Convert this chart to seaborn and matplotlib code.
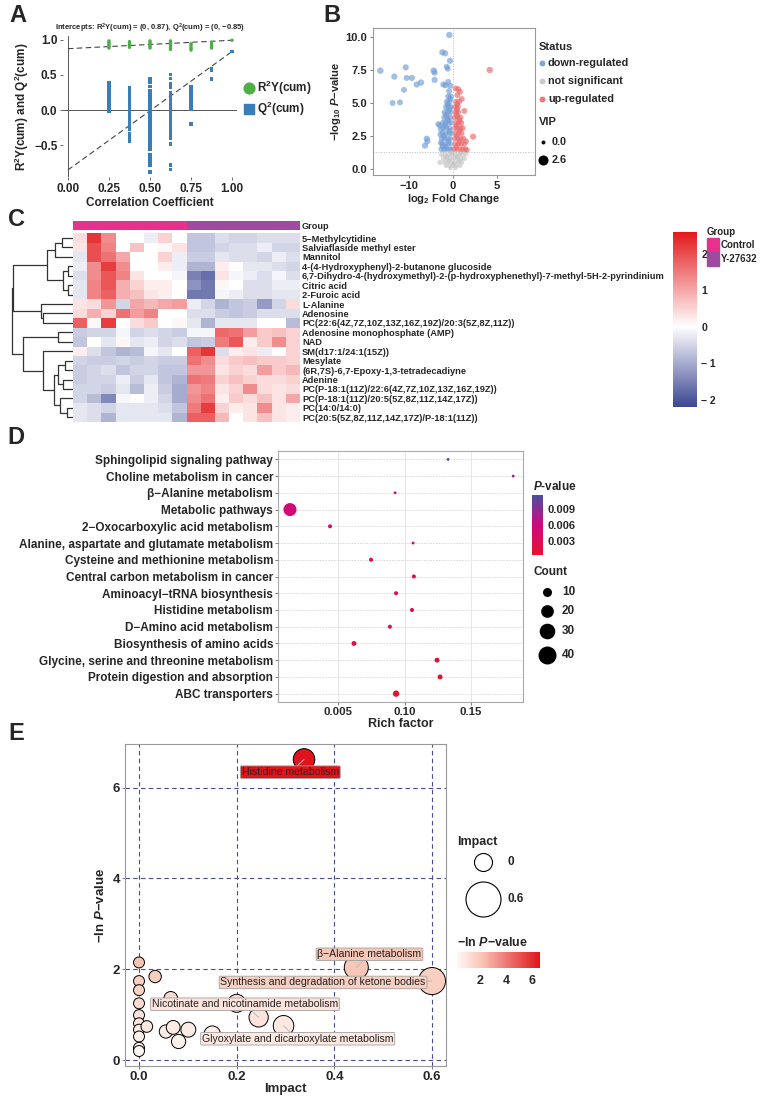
import numpy as np
import pandas as pd
import matplotlib
matplotlib.use("Agg")
import matplotlib.pyplot as plt
import seaborn as sns
from matplotlib.colors import LinearSegmentedColormap, ListedColormap, Normalize
from matplotlib.cm import ScalarMappable

sns.set_style("white")
plt.rcParams['font.family'] = ['Liberation Sans', 'DejaVu Sans']
plt.rcParams['mathtext.fontset'] = 'custom'
plt.rcParams['mathtext.rm'] = 'Liberation Sans'
plt.rcParams['mathtext.bf'] = 'Liberation Sans:bold'
plt.rcParams['mathtext.it'] = 'Liberation Sans:italic'
plt.rcParams['mathtext.bfit'] = 'Liberation Sans:bold:italic'

# ---------------- A: permutation test ----------------
perm_x = [0.25, 0.375, 0.5, 0.625, 0.75, 0.875]
r2_perm = [
    [0.98, 0.96, 0.94, 0.92, 0.90, 0.88],
    [0.97, 0.95, 0.93, 0.91, 0.89],
    [0.98, 0.96, 0.94, 0.92, 0.90, 0.88],
    [0.98, 0.96, 0.94, 0.91, 0.88, 0.86],
    [0.94, 0.92, 0.89, 0.87, 0.85],
    [0.96, 0.93, 0.90, 0.88],
]
q2_perm = [
    [0.39, 0.37, 0.35, 0.33, 0.31, 0.29, 0.27, 0.25, 0.20, 0.15, 0.10, 0.05, 0.0, -0.02],
    [0.31, 0.28, 0.25, 0.22, 0.19, 0.16, 0.13, 0.10, 0.07, 0.04, 0.01, -0.02, -0.05,
     -0.08, -0.11, -0.14, -0.18, -0.21, -0.24, -0.28, -0.33, -0.37, -0.42, -0.44],
    [0.45, 0.40, 0.33, 0.28, 0.25, 0.22, 0.19, 0.16, 0.13, 0.10, 0.07, 0.04, 0.01, -0.02,
     -0.05, -0.08, -0.11, -0.14, -0.17, -0.20, -0.23, -0.26, -0.29, -0.32, -0.35, -0.38,
     -0.41, -0.44, -0.47, -0.50, -0.53, -0.56, -0.63, -0.67, -0.70, -0.75, -0.78, -0.88],
    [0.50, 0.45, 0.38, 0.35, 0.32, 0.25, 0.20, 0.17, 0.14, 0.11, 0.08, 0.05, 0.02, -0.01,
     -0.04, -0.07, -0.10, -0.13, -0.16, -0.19, -0.22, -0.25, -0.28, -0.31, -0.34, -0.37,
     -0.40, -0.48, -0.78, -0.84],
    [0.33, 0.31, 0.28, 0.25, 0.22, 0.19, 0.16, 0.13, 0.10, 0.07, 0.04, 0.01, -0.20],
    [0.59, 0.56, 0.44],
]
r2_orig, q2_orig = 0.99, 0.83
r2_icpt, q2_icpt = 0.87, -0.85

# ---------------- B: volcano (x, -log10 p, VIP) ----------------
down_pts = [
    (-8.3, 7.45, 0.8), (-6.7, 7.0, 0.7), (-5.4, 7.7, 0.7), (-5.3, 6.9, 0.6), (-4.7, 6.9, 0.7),
    (-5.6, 6.0, 0.6), (-4.15, 6.4, 0.7), (-3.66, 6.55, 0.8), (-6.9, 5.0, 0.6), (-6.06, 5.05, 0.6),
    (-2.2, 7.45, 0.8), (-2.1, 7.3, 0.7), (-2.1, 6.75, 0.7), (-1.22, 8.84, 0.7), (-0.9, 8.76, 0.7),
    (-0.42, 10.15, 0.8), (-0.34, 8.2, 0.7), (-0.72, 7.75, 0.6), (-0.6, 7.6, 0.6), (-1.1, 6.4, 0.7),
    (-0.85, 6.35, 0.7), (-0.55, 6.6, 0.6), (-0.3, 6.3, 0.6), (-3.0, 2.3, 0.7), (-2.93, 2.1, 0.7),
    (-3.2, 1.77, 0.7), (-1.5, 3.3, 0.6), (-1.68, 3.4, 0.6), (-1.4, 3.0, 0.6),
    (-1.35, 1.5, 0.5), (-1.0, 1.5, 0.5), (-0.7, 1.5, 0.4), (-0.4, 1.5, 0.4), (-0.15, 1.5, 0.4),
    (-1.25, 1.9, 0.5), (-0.9, 1.9, 0.5), (-0.55, 1.9, 0.4), (-0.25, 1.9, 0.4),
    (-1.3, 2.3, 0.5), (-0.95, 2.3, 0.5), (-0.6, 2.3, 0.5), (-0.3, 2.3, 0.4),
    (-1.2, 2.7, 0.6), (-0.8, 2.7, 0.5), (-0.45, 2.7, 0.5), (-0.15, 2.7, 0.4),
    (-1.1, 3.1, 0.6), (-0.75, 3.1, 0.5), (-0.4, 3.1, 0.5),
    (-1.15, 3.5, 0.6), (-0.85, 3.5, 0.6), (-0.5, 3.5, 0.5), (-0.2, 3.5, 0.5),
    (-1.0, 3.9, 0.6), (-0.65, 3.9, 0.6), (-0.3, 3.9, 0.5),
    (-0.95, 4.3, 0.6), (-0.6, 4.3, 0.6), (-0.25, 4.3, 0.5),
    (-0.8, 4.7, 0.6), (-0.5, 4.7, 0.6), (-0.2, 4.7, 0.5),
    (-0.7, 5.1, 0.6), (-0.4, 5.1, 0.6), (-0.55, 5.5, 0.6), (-0.25, 5.5, 0.6), (-0.45, 5.9, 0.6),
    (-1.2, 1.7, 0.5), (-0.8, 1.7, 0.4), (-0.5, 2.1, 0.4), (-1.05, 2.5, 0.5), (-0.35, 2.9, 0.5),
    (-0.9, 3.3, 0.5), (-0.55, 3.7, 0.5), (-0.8, 4.1, 0.6), (-0.4, 4.5, 0.5), (-0.6, 4.9, 0.6),
    (-0.3, 5.3, 0.6), (-1.4, 2.0, 0.5), (-1.45, 2.6, 0.5),
]
up_pts = [
    (4.2, 7.5, 0.8), (2.3, 2.45, 0.7), (1.6, 1.45, 0.5), (0.3, 6.1, 0.6), (0.6, 6.05, 0.6),
    (0.8, 5.85, 0.6), (0.5, 5.6, 0.6), (1.0, 5.3, 0.6), (1.3, 4.4, 0.6), (1.5, 2.1, 0.5),
    (0.15, 1.5, 0.4), (0.45, 1.5, 0.4), (0.8, 1.5, 0.4), (1.1, 1.5, 0.5), (1.4, 1.5, 0.5),
    (0.25, 1.9, 0.4), (0.6, 1.9, 0.4), (0.95, 1.9, 0.5), (1.3, 1.9, 0.5),
    (0.2, 2.3, 0.4), (0.55, 2.3, 0.5), (0.9, 2.3, 0.5), (1.2, 2.3, 0.5),
    (0.3, 2.7, 0.5), (0.65, 2.7, 0.5), (1.0, 2.7, 0.5),
    (0.2, 3.1, 0.5), (0.5, 3.1, 0.5), (0.85, 3.1, 0.5), (1.1, 3.1, 0.6),
    (0.3, 3.5, 0.5), (0.65, 3.5, 0.5), (0.95, 3.5, 0.6),
    (0.2, 3.9, 0.5), (0.55, 3.9, 0.5), (0.85, 3.9, 0.6),
    (0.3, 4.3, 0.5), (0.6, 4.3, 0.6), (0.25, 4.7, 0.6), (0.55, 4.7, 0.6),
    (0.35, 5.1, 0.6), (0.7, 5.1, 0.6),
    (0.4, 1.7, 0.4), (0.75, 2.1, 0.5), (0.4, 2.5, 0.5), (0.75, 2.9, 0.5), (0.4, 3.3, 0.5),
    (0.75, 3.7, 0.5), (0.4, 4.1, 0.6), (0.45, 4.5, 0.6), (0.5, 4.9, 0.6),
]
ns_pts = [
    (-1.3, 1.1, 0.3), (-0.9, 1.1, 0.3), (-0.5, 1.1, 0.3), (-0.1, 1.1, 0.2), (0.3, 1.1, 0.3),
    (0.7, 1.1, 0.3), (1.1, 1.1, 0.3), (1.5, 1.15, 0.3),
    (-1.1, 0.8, 0.3), (-0.7, 0.8, 0.2), (-0.3, 0.8, 0.2), (0.1, 0.8, 0.2), (0.5, 0.8, 0.2),
    (0.9, 0.8, 0.3), (1.3, 0.8, 0.3),
    (-1.0, 0.5, 0.2), (-0.6, 0.5, 0.2), (-0.2, 0.5, 0.2), (0.2, 0.5, 0.2), (0.6, 0.5, 0.2),
    (1.0, 0.5, 0.2), (-1.5, 0.5, 0.3),
    (-0.8, 0.25, 0.2), (-0.4, 0.25, 0.1), (0.0, 0.25, 0.1), (0.4, 0.25, 0.1), (0.8, 0.25, 0.2),
    (-0.3, 0.08, 0.1), (0.3, 0.08, 0.1), (-0.7, 0.95, 0.3), (0.45, 0.95, 0.3),
    (-0.45, 0.65, 0.2), (0.75, 0.65, 0.2), (0.05, 0.4, 0.1), (-0.15, 1.25, 0.3), (0.9, 1.25, 0.3),
]

# ---------------- C: heatmap ----------------
metabolites = [
    "5\u2212Methylcytidine", "Salviaflaside methyl ester", "Mannitol",
    "4-(4-Hydroxyphenyl)-2-butanone glucoside",
    "6,7-Dihydro-4-(hydroxymethyl)-2-(p-hydroxyphenethyl)-7-methyl-5H-2-pyrindinium",
    "Citric acid", "2-Furoic acid", "L-Alanine", "Adenosine",
    "PC(22:6(4Z,7Z,10Z,13Z,16Z,19Z)/20:3(5Z,8Z,11Z))",
    "Adenosine monophosphate (AMP)", "NAD", "SM(d17:1/24:1(15Z))", "Mesylate",
    "(6R,7S)-6,7-Epoxy-1,3-tetradecadiyne", "Adenine",
    "PC(P-18:1(11Z)/22:6(4Z,7Z,10Z,13Z,16Z,19Z))",
    "PC(P-18:1(11Z)/20:5(5Z,8Z,11Z,14Z,17Z))", "PC(14:0/14:0)",
    "PC(20:5(5Z,8Z,11Z,14Z,17Z)/P-18:1(11Z))",
]
sample_groups = ["Control"] * 8 + ["Y-27632"] * 8
zscores = [
    [0.4, 2.3, 1.3, 0.0, 0.0, -0.2, 0.5, 0.0, -0.7, -0.7, -0.4, -0.5, -0.5, -0.4, -0.4, -0.4],
    [0.3, 2.0, 1.4, 0.0, 0.7, 0.0, 0.1, 0.3, -0.7, -0.7, -0.5, -0.4, -0.4, -0.2, -0.5, -0.5],
    [-0.3, 2.0, 1.6, 1.0, 0.0, 0.0, 0.5, -0.2, -0.6, -0.6, -0.3, -0.4, -0.4, -0.5, -0.2, -0.4],
    [-0.2, 1.3, 2.2, 1.3, 0.0, 0.0, 0.2, -0.2, -0.9, -0.9, 0.2, 0.0, -0.3, -0.3, -0.4, -0.5],
    [-0.4, 1.3, 1.9, 1.4, 0.3, 0.0, 0.0, -0.1, -1.5, -1.7, 0.3, -0.1, -0.2, -0.4, -0.1, -0.4],
    [-0.3, 1.4, 1.9, 0.9, 0.5, 0.2, 0.2, 0.0, -1.3, -1.6, 0.1, 0.0, -0.4, -0.4, -0.2, -0.2],
    [-0.3, 1.4, 1.8, 0.9, 0.7, 0.3, 0.2, 0.0, -1.6, -1.6, -0.1, -0.2, -0.4, -0.4, -0.3, -0.3],
    [0.3, 0.4, 1.2, -0.5, 1.0, 0.8, 1.0, 1.1, -0.2, -0.5, -0.9, -0.7, -0.6, -1.2, -0.5, 0.4],
    [0.4, 0.9, 0.5, 1.6, 1.1, 1.4, 0.0, 0.0, -0.4, -0.4, -0.6, -0.7, -0.6, -0.4, -0.4, -0.4],
    [1.8, 0.1, 2.2, 0.0, 0.4, 0.6, 0.0, 0.1, -0.3, -0.9, -0.3, -0.3, -0.3, 0.0, 0.0, -0.8],
    [-0.6, -0.5, -0.5, -0.1, -0.5, -0.4, -0.5, -0.6, -0.1, -0.1, 1.7, 1.6, 1.1, 0.6, 0.7, 0.5],
    [-0.7, 0.0, -0.3, 0.1, -0.3, -0.2, -0.5, -0.4, -0.7, -0.6, 1.5, 1.9, 0.2, 0.6, 1.3, 0.5],
    [0.2, -0.4, -0.7, -0.9, -0.8, -0.1, -0.3, 0.0, 1.8, 2.3, -0.4, 0.2, 0.3, -0.2, 0.0, 0.5],
    [-0.5, -0.6, -0.6, -0.5, -0.6, -0.5, -0.6, -0.6, 1.6, 1.3, 0.4, 0.6, 0.7, 0.6, 0.6, 0.5],
    [-0.6, -0.5, -0.4, -0.7, -0.5, -0.5, -0.7, -0.7, 1.2, 1.2, 0.3, 0.5, 0.4, 1.1, 0.6, 0.8],
    [-0.6, -0.5, -0.5, -0.2, -0.6, -0.3, -0.7, -0.9, 1.6, 1.5, 0.5, 0.7, 0.5, 0.4, 0.4, 0.5],
    [-0.5, -0.5, -0.6, -0.3, -0.8, -0.2, -0.6, -1.0, 1.2, 1.4, 0.3, 0.5, 1.3, 0.4, 0.3, 0.4],
    [-0.5, -0.8, -1.4, -0.1, 0.0, -0.2, -0.5, -1.0, 1.3, 1.6, 0.2, 0.6, 0.4, 0.7, 0.3, 1.0],
    [-0.3, -0.4, -0.5, -0.3, -0.3, -0.3, -0.4, -0.7, 1.5, 2.2, 0.5, 0.2, 0.3, 1.3, 0.3, 0.2],
    [-0.3, -0.4, -0.9, -0.3, -0.3, -0.3, -0.3, -0.9, 1.8, 1.8, 0.8, 0.0, 0.3, 0.7, 0.3, 0.2],
]
# row tree: (left, right, merge height); leaves are row indices
row_tree = (
    (((((0, 1, 1.8), 2, 2.95), ((3, 4, 0.8), (5, 6, 0.8), 1.6), 4.26),
      (7, (8, 9, 4.9), 5.25), 9.8),
     ((10, 11, 2.5),
      (12, (((13, 14, 1.3), (15, 16, 1.6), 2.5), (17, (18, 19, 1.0), 2.1), 3.1), 4.9), 8.2),
     10.0)
)

# ---------------- D: KEGG enrichment ----------------
pathways = [
    "Sphingolipid signaling pathway", "Choline metabolism in cancer",
    "\u03b2\u2212Alanine metabolism", "Metabolic pathways",
    "2\u2212Oxocarboxylic acid metabolism", "Alanine, aspartate and glutamate metabolism",
    "Cysteine and methionine metabolism", "Central carbon metabolism in cancer",
    "Aminoacyl\u2212tRNA biosynthesis", "Histidine metabolism", "D\u2212Amino acid metabolism",
    "Biosynthesis of amino acids", "Glycine, serine and threonine metabolism",
    "Protein digestion and absorption", "ABC transporters",
]
rich_factor = [0.1327, 0.1816, 0.0929, 0.0139, 0.044, 0.1064, 0.0748, 0.107,
               0.0936, 0.1056, 0.089, 0.062, 0.1244, 0.1267, 0.0936]
path_pval = [0.0115, 0.0075, 0.0068, 0.0055, 0.0050, 0.0052, 0.0030, 0.0028,
             0.0022, 0.0018, 0.0016, 0.0020, 0.0012, 0.0008, 0.0004]
path_count = [1, 1, 1, 21, 2, 1, 2, 2, 2, 2, 2, 3, 3, 3, 5]
count_breaks = [10, 20, 30, 40]

# ---------------- E: pathway impact ----------------
impact = [0.338, 0.445, 0.600, 0.0, 0.033, 0.0, 0.0, 0.065, 0.0, 0.2, 0.245, 0.296,
          0.0, 0.0, 0.0, 0.016, 0.0, 0.0, 0.0, 0.055, 0.07, 0.101, 0.081, 0.150]
neg_ln_p = [6.62, 2.04, 1.74, 2.15, 1.84, 1.74, 1.54, 1.36, 1.25, 1.25, 0.94, 0.755,
            0.99, 0.81, 0.67, 0.74, 0.52, 0.27, 0.20, 0.63, 0.72, 0.67, 0.41, 0.57]
labels_e = {0: "Histidine metabolism", 1: "\u03b2\u2212Alanine metabolism",
            2: "Synthesis and degradation of ketone bodies",
            10: "Nicotinate and nicotinamide metabolism",
            11: "Glyoxylate and dicarboxylate metabolism"}
label_pos = {0: (0.31, 6.34), 1: (0.472, 2.33), 2: (0.377, 1.71),
             10: (0.217, 1.23), 11: (0.325, 0.47)}

# =====================================================
W, H = 760, 1100
fig = plt.figure(figsize=(7.6, 11), dpi=100)


def box(l, t, r, b):
    return [l / W, 1 - b / H, (r - l) / W, (b - t) / H]


def bold_labels(labels, size):
    for lab in labels:
        lab.set_fontweight('bold')
        lab.set_fontsize(size)


def style_ticks(ax, size=8.5, ysize=None):
    bold_labels(ax.get_xticklabels(), size)
    bold_labels(ax.get_yticklabels(), ysize or size)


green, blue = '#4DAE46', '#3A7DBA'

# ---- A
axA = fig.add_axes(box(63, 36, 237, 177))
rows = []
for xv, r2s, q2s in zip(perm_x, r2_perm, q2_perm):
    rows += [(xv, v, 'R2') for v in r2s]
    rows += [(xv, v, 'Q2') for v in q2s]
rows += [(1.0, r2_orig, 'R2'), (1.0, q2_orig, 'Q2')]
dfA = pd.DataFrame(rows, columns=['cc', 'val', 'metric'])
axA.axhline(0, color='#555555', lw=0.7)
axA.axvline(0, color='#555555', lw=0.7)
axA.plot([0, 1], [r2_icpt, r2_orig], ls=(0, (5, 3)), color='#444444', lw=0.8)
axA.plot([0, 1], [q2_icpt, q2_orig], ls=(0, (5, 3)), color='#444444', lw=0.8)
sns.scatterplot(data=dfA, x='cc', y='val', hue='metric', style='metric',
                markers={'R2': 'o', 'Q2': 's'}, palette={'R2': green, 'Q2': blue},
                s=6, linewidth=0, legend=False, ax=axA, zorder=3)
axA.set_xlim(-0.03, 1.03)
axA.set_ylim(-0.95, 1.05)
axA.set_xticks([0, 0.25, 0.5, 0.75, 1.0])
axA.set_xticklabels(['0.00', '0.25', '0.50', '0.75', '1.00'])
axA.set_yticks([-0.5, 0, 0.5, 1.0])
axA.set_yticklabels(['\u22120.5', '0.0', '0.5', '1.0'])
for sp in axA.spines.values():
    sp.set_visible(False)
axA.tick_params(bottom=True, left=True, length=2.5, width=0.6, color='#555555', pad=1.5)
style_ticks(axA, 8.5)
axA.set_xlabel('Correlation Coefficient', fontsize=8.5, fontweight='bold', labelpad=2)
axA.set_ylabel(r'R$^\mathbf{2}$Y(cum) and Q$^\mathbf{2}$(cum)', fontsize=8.5,
               fontweight='bold', labelpad=2)
axA.set_title(r'Intercepts: R$^\mathbf{2}$Y(cum) = (0, %.2f), Q$^\mathbf{2}$(cum) = (0, %s)'
              % (r2_icpt, ('%.2f' % q2_icpt).replace('-', '\u2212')),
              fontsize=5.5, fontweight='bold', pad=4)

# ---- B
axB = fig.add_axes(box(373, 28, 535, 175))
recs = [(x, y, v, 'down-regulated') for x, y, v in down_pts] + \
       [(x, y, v, 'not significant') for x, y, v in ns_pts] + \
       [(x, y, v, 'up-regulated') for x, y, v in up_pts]
dfB = pd.DataFrame(recs, columns=['lfc', 'nlp', 'vip', 'status'])
status_colors = {'down-regulated': '#6F9BD6', 'not significant': '#C4C4C4',
                 'up-regulated': '#E8686A'}
axB.axhline(1.3, ls=':', color='#BBBBBB', lw=0.7)
axB.axvline(0, ls=':', color='#BBBBBB', lw=0.7)
sns.scatterplot(data=dfB, x='lfc', y='nlp', hue='status', palette=status_colors,
                size='vip', sizes=(8, 52), size_norm=(0, 2.6), alpha=0.65,
                linewidth=0, legend=False, ax=axB)
axB.set_xlim(-9.14, 9.37)
axB.set_ylim(-0.45, 10.68)
axB.set_xticks([-5, 0, 5])
axB.set_xticklabels(['\u221210', '0', '5'])
axB.set_yticks([0, 2.5, 5, 7.5, 10])
axB.set_yticklabels(['0.0', '2.5', '5.0', '7.5', '10.0'])
for sp in axB.spines.values():
    sp.set_color('#999999')
    sp.set_linewidth(0.8)
axB.tick_params(bottom=True, left=True, length=2.5, width=0.6, color='#666666', pad=1.5)
style_ticks(axB, 8)
axB.set_xlabel(r'log$_\mathbf{2}$ Fold Change', fontsize=8, fontweight='bold', labelpad=1)
axB.set_ylabel('\u2212log$_\\mathbf{10}$ $\\mathbfit{P}$\u2212value',
               fontsize=8, fontweight='bold', labelpad=2)

# ---- C
navy_red = LinearSegmentedColormap.from_list(
    'nr', [(0, '#3B4792'), (2.2 / 4.8, '#FFFFFF'), (1, '#E31A1C')])
heat_df = pd.DataFrame(zscores, index=metabolites)
gax = fig.add_axes(box(73, 221, 300, 230))
hax = fig.add_axes(box(73, 233.3, 300, 422))
dax = fig.add_axes(box(8, 233.3, 73, 422))
cax = fig.add_axes(box(673, 232, 697, 407))
grp_codes = pd.DataFrame([[0 if g == 'Control' else 1 for g in sample_groups]])
grp_colors = ['#E8308D', '#9E4A9E']
sns.heatmap(grp_codes, cmap=ListedColormap(grp_colors), cbar=False, ax=gax,
            xticklabels=False, yticklabels=['Group'])
gax.yaxis.tick_right()
gax.tick_params(length=0, pad=1.5)
for lab in gax.get_yticklabels():
    lab.set_rotation(0)
    lab.set_fontsize(6.6)
    lab.set_fontweight('bold')
sns.heatmap(heat_df, cmap=navy_red, vmin=-2.2, vmax=2.6, ax=hax, cbar_ax=cax,
            xticklabels=False, yticklabels=True)
hax.yaxis.tick_right()
hax.tick_params(length=0, pad=1.5)
for lab in hax.get_yticklabels():
    lab.set_rotation(0)
    lab.set_fontsize(6.7)
    lab.set_fontweight('bold')
hax.set_ylabel('')
cax.tick_params(length=0, pad=3)
cax.set_yticks([-2, -1, 0, 1, 2])
cax.set_yticklabels(['\u2212 2', '\u2212 1', '0', '1', '2'])
bold_labels(cax.get_yticklabels(), 7.5)


def draw_tree(node, ax):
    if isinstance(node, int):
        return node + 0.5, 0.0
    left, right, h = node
    yl, hl = draw_tree(left, ax)
    yr, hr = draw_tree(right, ax)
    ax.plot([hl, h, h, hr], [yl, yl, yr, yr], color='#333333', lw=0.9,
            solid_capstyle='butt')
    return (yl + yr) / 2, h


draw_tree(row_tree, dax)
dax.set_xlim(10.66, 0)
dax.set_ylim(len(metabolites), 0)
dax.axis('off')

# ---- D
p_cmap = LinearSegmentedColormap.from_list('pv', ['#E8112D', '#D1087E', '#4B4F9F'])
p_norm = Normalize(0.0004, 0.0115)
size_k = 4.2
axD = fig.add_axes(box(278, 451, 523, 702))
dfD = pd.DataFrame({'path': pathways, 'rich': rich_factor, 'p': path_pval, 'count': path_count})
for yv in range(len(pathways)):
    axD.axhline(yv, color='#D5D5D5', lw=0.6, ls=(0, (2, 1.5)), zorder=0)
for xv in [0.05, 0.10, 0.15]:
    axD.axvline(xv, color='#E2E2E2', lw=0.6, zorder=0)
sns.scatterplot(data=dfD, x='rich', y='path', hue='p', palette=p_cmap, hue_norm=p_norm,
                size='count', sizes=(size_k * 1, size_k * 45), size_norm=(1, 45),
                linewidth=0, legend=False, ax=axD, zorder=3)
axD.set_ylim(len(pathways) - 0.5, -0.5)
axD.set_xlim(0.0049, 0.189)
axD.set_xticks([0.05, 0.10, 0.15])
axD.set_xticklabels(['0.005', '0.10', '0.15'])
for sp in axD.spines.values():
    sp.set_color('#AAAAAA')
    sp.set_linewidth(0.8)
axD.tick_params(bottom=True, left=True, length=2, width=0.6, color='#666666', pad=1.5)
style_ticks(axD, 8.2, 8.5)
axD.set_ylabel('')
axD.set_xlabel('Rich factor', fontsize=9, fontweight='bold', labelpad=1)
caxD = fig.add_axes(box(532, 495, 543, 555))
cbD = fig.colorbar(ScalarMappable(norm=p_norm, cmap=p_cmap), cax=caxD)
cbD.outline.set_visible(False)
cbD.set_ticks([0.003, 0.006, 0.009])
cbD.set_ticklabels(['0.003', '0.006', '0.009'])
caxD.tick_params(length=2, color='white', pad=1.5)
style_ticks(caxD, 8)

# ---- E
e_cmap = LinearSegmentedColormap.from_list(
    'er', [(0, '#FFF7F4'), (0.28, '#F8C8B8'), (1, '#E0141C')])
e_norm = Normalize(0.2, 6.62)
axE = fig.add_axes(box(125, 744, 446, 1066))
dfE = pd.DataFrame({'impact': impact, 'nlp': neg_ln_p})
for xv in [0, 0.2, 0.4, 0.6]:
    axE.axvline(xv, color='#4A4A9A', lw=0.8, ls=(0, (4, 3)), zorder=0)
for yv in [0, 2, 4, 6]:
    axE.axhline(yv, color='#4A4A9A', lw=0.8, ls=(0, (4, 3)), zorder=0)
sns.scatterplot(data=dfE, x='impact', y='nlp', hue='nlp', palette=e_cmap, hue_norm=e_norm,
                size='impact', sizes=(62, 380), size_norm=(0, 0.6),
                edgecolor='black', linewidth=0.7, legend=False, ax=axE, zorder=3)
for i, name in labels_e.items():
    lx, ly = label_pos[i]
    axE.plot([lx, impact[i]], [ly, neg_ln_p[i]], color='#BBBBBB', lw=0.7, zorder=4)
    axE.text(lx, ly, name, ha='center', va='center', fontsize=7.6, color='#222222', zorder=5,
             bbox=dict(boxstyle='round,pad=0.12', fc=e_cmap(e_norm(neg_ln_p[i])),
                       ec='#A0A0A0', lw=0.6))
axE.set_xlim(-0.0287, 0.6287)
axE.set_ylim(-0.13, 6.96)
axE.set_xticks([0, 0.2, 0.4, 0.6])
axE.set_xticklabels(['0.0', '0.2', '0.4', '0.6'])
axE.set_yticks([0, 2, 4, 6])
for sp in axE.spines.values():
    sp.set_color('#999999')
    sp.set_linewidth(0.8)
axE.tick_params(bottom=True, left=True, length=2.5, width=0.6, color='#666666', pad=1)
style_ticks(axE, 9.5)
axE.set_xlabel('Impact', fontsize=9.5, fontweight='bold', labelpad=0)
axE.set_ylabel('\u2212ln $\\mathbfit{P}$\u2212value', fontsize=9.5, fontweight='bold', labelpad=4)
caxE = fig.add_axes(box(457, 952, 540, 968))
cbE = fig.colorbar(ScalarMappable(norm=e_norm, cmap=e_cmap), cax=caxE, orientation='horizontal')
cbE.outline.set_visible(False)
cbE.set_ticks([2, 4, 6])
caxE.tick_params(length=3, color='white', pad=2)
style_ticks(caxE, 9)

# ---- overlay: panel letters and legends (pixel coordinates)
ov = fig.add_axes([0, 0, 1, 1])
ov.set_xlim(0, W)
ov.set_ylim(H, 0)
ov.axis('off')
for letter, (x0, y0) in {'A': (9, 15), 'B': (323, 15), 'C': (8, 220),
                         'D': (7, 437), 'E': (8, 734)}.items():
    ov.text(x0, y0, letter, fontsize=17, fontweight='bold', va='center', ha='left')

# A legend
ov.scatter([249], [88], s=60, color=green, marker='o')
ov.scatter([249], [109], s=60, color=blue, marker='s')
ov.text(257, 88, r'R$^\mathbf{2}$Y(cum)', fontsize=8.5, fontweight='bold', va='center')
ov.text(257, 109, r'Q$^\mathbf{2}$(cum)', fontsize=8.5, fontweight='bold', va='center')

# B legend
ov.text(539, 47, 'Status', fontsize=8, fontweight='bold', va='center')
for yy, st in zip([63, 81, 99], ['down-regulated', 'not significant', 'up-regulated']):
    ov.scatter([542], [yy], s=18, color=status_colors[st], alpha=0.9, linewidth=0)
    ov.text(548, yy, st, fontsize=7.8, fontweight='bold', va='center')
ov.text(539, 122, 'VIP', fontsize=8, fontweight='bold', va='center')
for yy, v in zip([142, 160], [0.0, 2.6]):
    ov.scatter([543], [yy], s=8 + (52 - 8) * v / 2.6, color='black', linewidth=0)
    ov.text(552, yy, '%.1f' % v, fontsize=7.8, fontweight='bold', va='center')

# C group legend
ov.text(707, 232, 'Group', fontsize=7, fontweight='bold', va='center')
for k, (g, col) in enumerate(zip(['Control', 'Y-27632'], grp_colors)):
    ov.add_patch(plt.Rectangle((707, 238 + 14 * k), 12, 14, color=col))
    ov.text(721, 245 + 14 * k, g, fontsize=7, fontweight='bold', va='center')

# D legends
ov.text(533, 486, '$\\mathbfit{P}$-value', fontsize=8.5, fontweight='bold', va='center')
ov.text(533, 572, 'Count', fontsize=8.5, fontweight='bold', va='center')
for yy, c in zip([592, 611, 631, 655], count_breaks):
    ov.scatter([547], [yy], s=size_k * c, color='black', linewidth=0)
    ov.text(562, yy, str(c), fontsize=8.5, fontweight='bold', va='center')

# E legends
ov.text(457, 842, 'Impact', fontsize=9, fontweight='bold', va='center')
for yy, v, ss in zip([862, 899], ['0', '0.6'], [168, 635]):
    ov.scatter([483], [yy], s=ss, facecolor='white', edgecolor='black', linewidth=0.8)
    ov.text(507, yy, v, fontsize=8.5, fontweight='bold', va='center')
ov.text(457, 942, '\u2212ln $\\mathbfit{P}$\u2212value', fontsize=9, fontweight='bold',
        va='center')

fig.savefig('out.png', dpi=100)
